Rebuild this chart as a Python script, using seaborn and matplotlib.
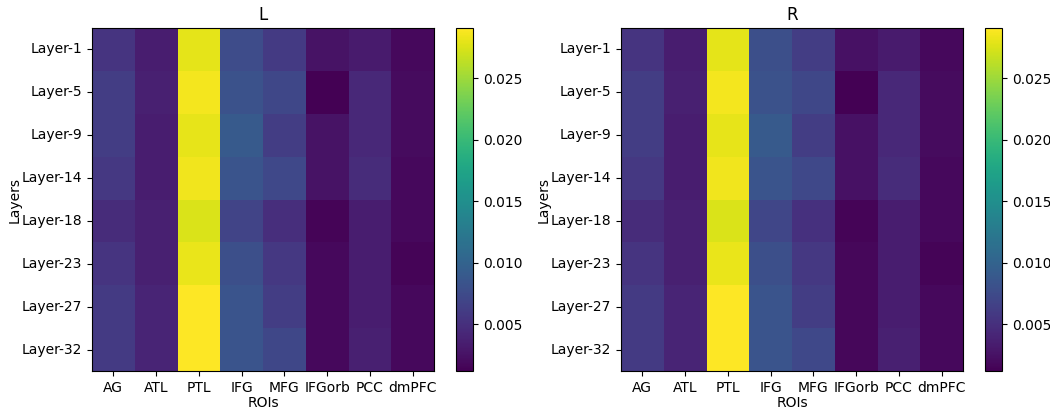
import numpy as np
import pandas as pd
import matplotlib
matplotlib.use("Agg")
import matplotlib.pyplot as plt
import seaborn as sns

rois = ["AG", "ATL", "PTL", "IFG", "MFG", "IFGorb", "PCC", "dmPFC"]
layers = ["Layer-1", "Layer-5", "Layer-9", "Layer-14", "Layer-18", "Layer-23", "Layer-27", "Layer-32"]

# values per ROI (rows = layers)
L_AG     = [0.0054, 0.0062, 0.0062, 0.0057, 0.0046, 0.0054, 0.0059, 0.0059]
L_ATL    = [0.0034, 0.0037, 0.0034, 0.0034, 0.0037, 0.0037, 0.0040, 0.0040]
L_PTL    = [0.0280, 0.0286, 0.0281, 0.0285, 0.0275, 0.0282, 0.0291, 0.0291]
L_IFG    = [0.0076, 0.0082, 0.0090, 0.0085, 0.0068, 0.0079, 0.0085, 0.0085]
L_MFG    = [0.0059, 0.0071, 0.0062, 0.0073, 0.0048, 0.0057, 0.0062, 0.0071]
L_IFGorb = [0.0026, 0.0012, 0.0026, 0.0026, 0.0015, 0.0018, 0.0018, 0.0018]
L_PCC    = [0.0032, 0.0043, 0.0043, 0.0046, 0.0034, 0.0034, 0.0034, 0.0037]
L_dmPFC  = [0.0018, 0.0020, 0.0020, 0.0018, 0.0018, 0.0015, 0.0018, 0.0018]

R_AG     = [0.0054, 0.0062, 0.0062, 0.0057, 0.0046, 0.0054, 0.0059, 0.0059]
R_ATL    = [0.0034, 0.0037, 0.0034, 0.0034, 0.0037, 0.0037, 0.0040, 0.0040]
R_PTL    = [0.0280, 0.0286, 0.0281, 0.0285, 0.0275, 0.0282, 0.0291, 0.0291]
R_IFG    = [0.0079, 0.0082, 0.0090, 0.0085, 0.0070, 0.0079, 0.0085, 0.0085]
R_MFG    = [0.0062, 0.0071, 0.0062, 0.0073, 0.0051, 0.0057, 0.0062, 0.0073]
R_IFGorb = [0.0024, 0.0012, 0.0024, 0.0024, 0.0015, 0.0017, 0.0017, 0.0017]
R_PCC    = [0.0032, 0.0043, 0.0043, 0.0046, 0.0034, 0.0034, 0.0034, 0.0037]
R_dmPFC  = [0.0018, 0.0020, 0.0020, 0.0018, 0.0018, 0.0015, 0.0018, 0.0018]

L_df = pd.DataFrame(dict(zip(rois, [L_AG, L_ATL, L_PTL, L_IFG, L_MFG, L_IFGorb, L_PCC, L_dmPFC])), index=layers)
R_df = pd.DataFrame(dict(zip(rois, [R_AG, R_ATL, R_PTL, R_IFG, R_MFG, R_IFGorb, R_PCC, R_dmPFC])), index=layers)

fig = plt.figure(figsize=(10.5, 4.12), dpi=100)
W, H = 1050, 412
panels = [("L", L_df, 92, 456), ("R", R_df, 621, 985)]
for title, df, axl, cbl in panels:
    ax = fig.add_axes([axl / W, 41 / H, 342 / W, 343 / H])
    cax = fig.add_axes([cbl / W, 41 / H, 17 / W, 343 / H])
    sns.heatmap(df, ax=ax, cbar_ax=cax, cmap="viridis", vmin=0.0012, vmax=0.0291)
    for s in ax.spines.values():
        s.set_visible(True)
        s.set_linewidth(0.8)
    cb = ax.collections[0].colorbar
    cb.outline.set_visible(True)
    cb.outline.set_linewidth(0.8)
    cb.set_ticks([0.005, 0.010, 0.015, 0.020, 0.025])
    cb.ax.tick_params(labelsize=10)
    ax.set_title(title, fontsize=12)
    ax.set_xlabel("ROIs", fontsize=10, labelpad=1)
    ax.set_ylabel("Layers", fontsize=10, labelpad=0)
    ax.tick_params(axis="both", labelsize=10)
    plt.setp(ax.get_yticklabels(), rotation=0)
    plt.setp(ax.get_xticklabels(), rotation=0)

fig.savefig("out.png", dpi=100)
